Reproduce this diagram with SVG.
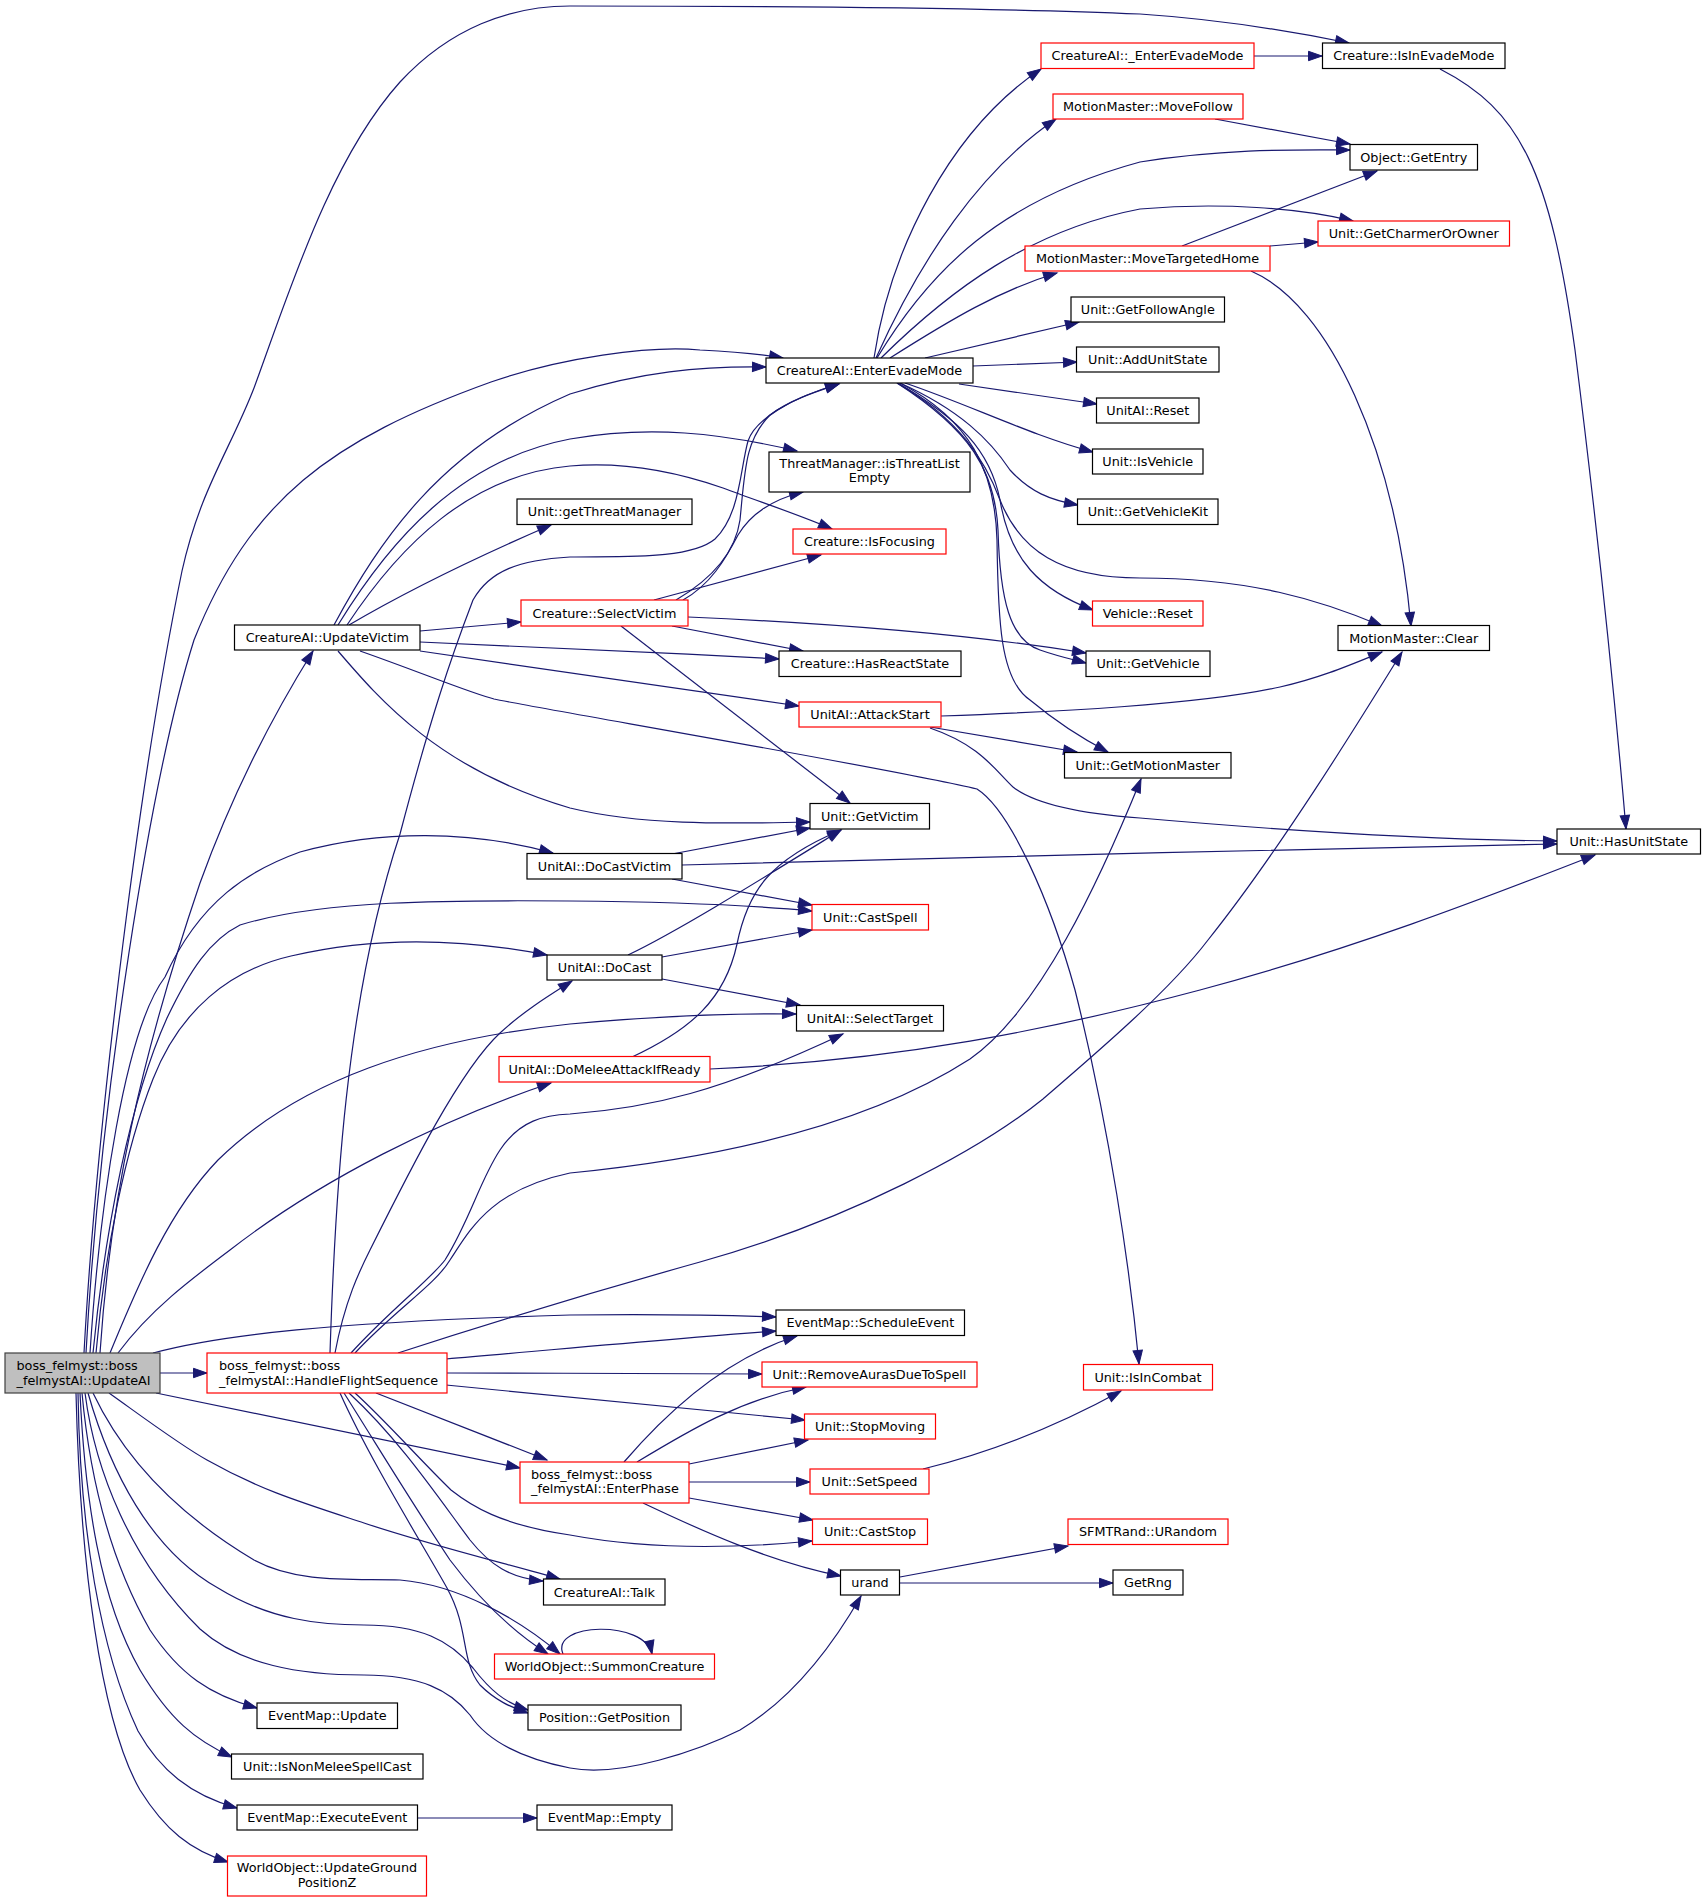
<svg xmlns="http://www.w3.org/2000/svg" width="1705" height="1902" viewBox="0 0 1705 1902">
<style>
.n rect{fill:#fff;stroke:#000;stroke-width:1.2}
.n.r rect{stroke:#ff0000}
.n.g rect{fill:#bfbfbf;stroke:#404040}
text{font-family:"DejaVu Sans","Liberation Sans",sans-serif;font-size:12.8px;fill:#000}
.c{text-anchor:middle}
#edges path{fill:none;stroke:#191970;stroke-width:1.2;marker-end:url(#a)}
</style>
<defs>
<marker id="a" markerUnits="userSpaceOnUse" markerWidth="14" markerHeight="10" refX="13.5" refY="4.7" orient="auto" overflow="visible">
<path d="M0,0 L13.5,4.7 L0,9.4 z" fill="#191970" stroke="#191970" stroke-width="1"/>
</marker>
</defs>
<rect width="1705" height="1902" fill="#fff"/>
<g id="edges">
<path d="M84,1353 C95,1150 135,800 182,571 C200,490 230,450 254,388 C290,290 330,160 400,82 C450,28 510,6 570,6 C800,6 1000,8 1140,14 C1230,20 1300,33 1349,43"/>
<path d="M86,1353 C100,1100 150,780 194,640 C250,500 330,440 491,382 C560,358 650,345 700,350 C740,352 760,354 783,358"/>
<path d="M334,625 C380,540 440,450 570,394 C640,372 700,366 766,367"/>
<path d="M338,625 C390,540 460,460 570,439 C650,425 720,433 797,451"/>
<path d="M347,625 C400,545 470,475 570,466 C640,460 700,480 723,488 C760,502 800,515 832,529"/>
<path d="M349,625 C400,595 470,560 551,525"/>
<path d="M420,631 L521,622"/>
<path d="M420,642 C500,645 650,652 779,659"/>
<path d="M420,651 L799,706"/>
<path d="M360,651 C420,672 470,693 494,699 C530,707 900,770 977,789 C1010,810 1050,900 1075,990 C1110,1130 1130,1270 1139,1364"/>
<path d="M338,651 C380,700 440,770 570,808 C640,825 720,824 810,822"/>
<path d="M676,600 C710,580 735,555 740,520 C745,470 745,440 770,415 C790,400 815,392 839,384"/>
<path d="M330,1353 C335,1200 345,1000 400,834 C430,720 450,660 473,600 C490,570 520,560 570,557 C620,556 690,560 715,539 C740,515 740,470 748,441 C755,420 790,398 839,384"/>
<path d="M335,1353 C345,1300 360,1270 370,1250 C410,1170 460,1070 500,1033 C525,1010 550,995 572,981"/>
<path d="M351,1353 C390,1310 430,1280 445,1260 C470,1220 480,1180 500,1150 C520,1120 545,1115 570,1114 C650,1108 720,1092 843,1034"/>
<path d="M355,1353 C395,1310 435,1285 450,1260 C470,1230 490,1190 570,1173 C700,1160 860,1130 970,1059 C1040,1010 1100,880 1141,779"/>
<path d="M398,1353 C500,1320 600,1290 700,1262 C850,1220 980,1150 1043,1099 C1100,1050 1170,990 1208,940 C1280,850 1360,720 1402,652"/>
<path d="M90,1353 C100,1200 125,1030 165,977 C200,900 250,870 300,852 C380,830 470,830 553,853"/>
<path d="M93,1353 C105,1230 130,1100 167,1018 C190,970 210,940 240,925 C320,900 450,900 570,901 C680,902 760,906 812,911"/>
<path d="M96,1353 C105,1250 125,1150 153,1079 C180,1010 230,970 291,956 C380,935 470,940 547,955"/>
<path d="M110,1353 C140,1280 170,1210 218,1160 C300,1080 420,1040 570,1024 C660,1016 730,1013 796,1014"/>
<path d="M118,1353 C150,1310 190,1280 230,1250 C320,1180 440,1120 551,1083"/>
<path d="M153,1353 C220,1335 330,1322 570,1315 C650,1314 720,1315 776,1317"/>
<path d="M160,1373 L207,1373"/>
<path d="M156,1393 L520,1468"/>
<path d="M109,1393 C140,1415 180,1445 207,1460 C260,1490 300,1502 364,1523 C430,1545 500,1562 560,1579"/>
<path d="M349,1393 C400,1440 440,1500 470,1540 C490,1565 510,1578 543,1581"/>
<path d="M355,1393 C385,1420 420,1460 451,1490 C470,1505 500,1525 570,1535 C650,1550 740,1548 812,1541"/>
<path d="M93,1393 C120,1450 170,1510 254,1560 C300,1585 360,1578 400,1580 C460,1585 520,1620 560,1654"/>
<path d="M344,1393 C380,1450 410,1500 450,1560 C480,1600 510,1630 548,1654"/>
<path d="M88,1393 C110,1470 150,1550 218,1588 C270,1620 320,1625 364,1625 C420,1625 450,1640 473,1668 C490,1690 505,1703 528,1710"/>
<path d="M340,1393 C370,1460 420,1540 447,1588 C470,1630 460,1660 480,1685 C495,1700 510,1707 528,1713"/>
<path d="M85,1393 C95,1470 130,1560 200,1629 C240,1665 300,1675 364,1675 C420,1675 450,1690 470,1715 C490,1745 530,1760 570,1768 C620,1778 700,1750 740,1730 C790,1700 830,1650 861,1596"/>
<path d="M82,1393 C90,1480 110,1560 150,1630 C180,1675 210,1695 257,1708"/>
<path d="M80,1393 C85,1500 100,1600 140,1670 C170,1720 195,1740 232,1757"/>
<path d="M78,1393 C80,1530 100,1650 138,1731 C160,1770 190,1795 237,1808"/>
<path d="M76,1393 C80,1560 100,1720 140,1790 C165,1830 190,1850 228,1862"/>
<path d="M100,1353 C110,1200 140,1060 200,883 C230,800 270,720 313,651"/>
<path d="M672,854 L810,828"/>
<path d="M682,865 C900,860 1300,848 1557,844"/>
<path d="M672,879 L812,905"/>
<path d="M628,955 C680,930 760,880 841,830"/>
<path d="M662,957 L812,930"/>
<path d="M662,979 L800,1005"/>
<path d="M632,1057 C690,1030 725,1000 737,944 C748,890 770,860 841,830"/>
<path d="M710,1069 C900,1060 1050,1030 1200,990 C1350,950 1480,900 1595,855"/>
<path d="M941,716 C1050,712 1200,705 1280,687 C1320,678 1350,665 1382,652"/>
<path d="M930,727 L1077,752"/>
<path d="M930,728 C980,745 995,770 1013,787 C1040,808 1100,815 1140,818 C1300,832 1450,840 1557,841"/>
<path d="M688,617 C850,624 980,636 1086,653"/>
<path d="M672,626 L803,651"/>
<path d="M621,626 L850,803"/>
<path d="M683,600 C710,585 725,560 738,535 C750,515 770,500 803,492"/>
<path d="M654,600 L821,555"/>
<path d="M874,358 C890,250 950,130 1041,69"/>
<path d="M876,358 C920,260 980,170 1056,119"/>
<path d="M877,358 C930,270 1000,200 1140,162 C1230,148 1300,150 1350,150"/>
<path d="M881,358 C950,290 1030,230 1140,209 C1220,202 1300,208 1353,221"/>
<path d="M890,358 C950,320 1000,290 1057,273"/>
<path d="M925,358 L1079,322"/>
<path d="M973,366 L1077,362"/>
<path d="M959,384 L1097,404"/>
<path d="M905,383 C970,405 1030,435 1093,452"/>
<path d="M900,383 C960,410 990,440 1010,470 C1030,492 1050,500 1078,505"/>
<path d="M898,383 C960,420 990,450 1000,500 C1010,560 1040,590 1093,610"/>
<path d="M897,383 C960,420 985,460 1000,500 C1020,550 1060,578 1140,578 C1250,578 1320,600 1382,626"/>
<path d="M897,383 C970,430 995,470 998,530 C1000,600 1010,640 1040,650 C1060,657 1075,660 1086,663"/>
<path d="M900,383 C970,420 995,470 997,540 C998,620 1000,680 1030,700 C1060,725 1085,740 1108,752"/>
<path d="M1254,56 L1322,56"/>
<path d="M1215,119 L1350,144"/>
<path d="M1182,246 L1377,171"/>
<path d="M1270,246 L1318,242"/>
<path d="M1251,271 C1330,305 1395,450 1411,626"/>
<path d="M1440,69 C1520,110 1550,170 1575,350 C1600,550 1615,700 1626,829"/>
<path d="M624,1462 C660,1420 720,1360 797,1336"/>
<path d="M637,1462 C690,1430 740,1400 806,1387"/>
<path d="M689,1464 L808,1440"/>
<path d="M689,1482 L810,1482"/>
<path d="M689,1498 L813,1520"/>
<path d="M643,1503 C700,1530 770,1562 841,1576"/>
<path d="M446,1359 C550,1350 680,1338 776,1331"/>
<path d="M446,1373 C550,1373 700,1374 762,1374"/>
<path d="M446,1385 L805,1420"/>
<path d="M376,1393 L547,1460"/>
<path d="M923,1469 C980,1455 1050,1430 1121,1391"/>
<path d="M900,1577 L1068,1546"/>
<path d="M900,1583 L1113,1583"/>
<path d="M418,1818 L537,1818"/>
<path d="M563,1654 C550,1622 645,1620 652,1654"/>
</g>
<g id="n_U" class="n g"><rect x="5" y="1353" width="155" height="40"/><text x="16.5" y="1370">boss_felmyst::boss</text><text x="16.5" y="1385">_felmystAI::UpdateAI</text></g>
<g id="n_H" class="n r"><rect x="207" y="1353" width="240" height="40"/><text x="219" y="1370">boss_felmyst::boss</text><text x="219" y="1385">_felmystAI::HandleFlightSequence</text></g>
<g id="n_P" class="n r"><rect x="520" y="1462" width="169" height="41"/><text x="531" y="1478.5">boss_felmyst::boss</text><text x="531" y="1493">_felmystAI::EnterPhase</text></g>
<g id="n_V" class="n"><rect x="234.5" y="625" width="185.5" height="25"/><text class="c" x="327.3" y="642">CreatureAI::UpdateVictim</text></g>
<g id="n_E" class="n"><rect x="766" y="358" width="207" height="25"/><text class="c" x="869.5" y="375">CreatureAI::EnterEvadeMode</text></g>
<g id="n_EE" class="n r"><rect x="1041" y="43" width="213" height="25.5"/><text class="c" x="1147.5" y="60">CreatureAI::_EnterEvadeMode</text></g>
<g id="n_IE" class="n"><rect x="1322.5" y="43" width="182.5" height="25.5"/><text class="c" x="1413.8" y="60">Creature::IsInEvadeMode</text></g>
<g id="n_MF" class="n r"><rect x="1053" y="94" width="190" height="25"/><text class="c" x="1148" y="111">MotionMaster::MoveFollow</text></g>
<g id="n_GE" class="n"><rect x="1350" y="144.5" width="127.5" height="25.5"/><text class="c" x="1413.8" y="161.7">Object::GetEntry</text></g>
<g id="n_GC" class="n r"><rect x="1318" y="221" width="191.5" height="25"/><text class="c" x="1413.8" y="238">Unit::GetCharmerOrOwner</text></g>
<g id="n_MTH" class="n r"><rect x="1025" y="246" width="245" height="25"/><text class="c" x="1147.5" y="263">MotionMaster::MoveTargetedHome</text></g>
<g id="n_GFA" class="n"><rect x="1071" y="297" width="153.5" height="25"/><text class="c" x="1147.8" y="314">Unit::GetFollowAngle</text></g>
<g id="n_AUS" class="n"><rect x="1076.5" y="347" width="142.5" height="25"/><text class="c" x="1147.8" y="364">Unit::AddUnitState</text></g>
<g id="n_UAR" class="n"><rect x="1096.5" y="398" width="102.5" height="25"/><text class="c" x="1147.8" y="415">UnitAI::Reset</text></g>
<g id="n_IV" class="n"><rect x="1092.5" y="449" width="110.5" height="25"/><text class="c" x="1147.8" y="466">Unit::IsVehicle</text></g>
<g id="n_GVK" class="n"><rect x="1077.5" y="499" width="140.5" height="25.5"/><text class="c" x="1147.8" y="516">Unit::GetVehicleKit</text></g>
<g id="n_VR" class="n r"><rect x="1092.5" y="601" width="110.5" height="25"/><text class="c" x="1147.8" y="618">Vehicle::Reset</text></g>
<g id="n_MC" class="n"><rect x="1338" y="625.5" width="151.5" height="25"/><text class="c" x="1413.8" y="642.5">MotionMaster::Clear</text></g>
<g id="n_GV" class="n"><rect x="1086" y="651" width="124" height="25.5"/><text class="c" x="1148" y="668">Unit::GetVehicle</text></g>
<g id="n_GMM" class="n"><rect x="1064.5" y="752.5" width="166.5" height="25.5"/><text class="c" x="1147.8" y="769.7">Unit::GetMotionMaster</text></g>
<g id="n_HUS" class="n"><rect x="1557" y="829" width="143.5" height="25"/><text class="c" x="1628.8" y="846">Unit::HasUnitState</text></g>
<g id="n_TM" class="n"><rect x="769" y="452" width="201" height="40"/><text class="c" x="869.5" y="467.5">ThreatManager::isThreatList</text><text class="c" x="869.5" y="482">Empty</text></g>
<g id="n_GTM" class="n"><rect x="517" y="499" width="175" height="25.5"/><text class="c" x="604.5" y="516">Unit::getThreatManager</text></g>
<g id="n_IF" class="n r"><rect x="793" y="529" width="153" height="25"/><text class="c" x="869.5" y="546">Creature::IsFocusing</text></g>
<g id="n_SV" class="n r"><rect x="521" y="600" width="167" height="26"/><text class="c" x="604.5" y="617.5">Creature::SelectVictim</text></g>
<g id="n_HRS" class="n"><rect x="779" y="651" width="182" height="25.5"/><text class="c" x="870" y="668">Creature::HasReactState</text></g>
<g id="n_AS" class="n r"><rect x="799" y="702" width="142" height="25"/><text class="c" x="870" y="719">UnitAI::AttackStart</text></g>
<g id="n_GVi" class="n"><rect x="810" y="803.5" width="119.5" height="25.5"/><text class="c" x="869.8" y="820.7">Unit::GetVictim</text></g>
<g id="n_DCV" class="n"><rect x="527" y="853.5" width="155" height="25.5"/><text class="c" x="604.5" y="870.7">UnitAI::DoCastVictim</text></g>
<g id="n_CS" class="n r"><rect x="812" y="904.5" width="116.5" height="25.5"/><text class="c" x="870.3" y="921.7">Unit::CastSpell</text></g>
<g id="n_DC" class="n"><rect x="547" y="955" width="115" height="25"/><text class="c" x="604.5" y="972">UnitAI::DoCast</text></g>
<g id="n_ST" class="n"><rect x="796.5" y="1005.5" width="147" height="25.5"/><text class="c" x="870" y="1022.7">UnitAI::SelectTarget</text></g>
<g id="n_DM" class="n r"><rect x="499" y="1056.5" width="211" height="25.5"/><text class="c" x="604.5" y="1073.7">UnitAI::DoMeleeAttackIfReady</text></g>
<g id="n_SE" class="n"><rect x="776" y="1310" width="188.5" height="25.5"/><text class="c" x="870.3" y="1327.2">EventMap::ScheduleEvent</text></g>
<g id="n_RA" class="n r"><rect x="762" y="1362" width="215" height="25"/><text class="c" x="869.5" y="1379">Unit::RemoveAurasDueToSpell</text></g>
<g id="n_IC" class="n r"><rect x="1083.5" y="1364.5" width="129" height="25.5"/><text class="c" x="1148" y="1381.7">Unit::IsInCombat</text></g>
<g id="n_SM" class="n r"><rect x="804.5" y="1414" width="131" height="25"/><text class="c" x="870" y="1431">Unit::StopMoving</text></g>
<g id="n_SS" class="n r"><rect x="810" y="1469" width="119" height="25"/><text class="c" x="869.5" y="1486">Unit::SetSpeed</text></g>
<g id="n_CSt" class="n r"><rect x="812.5" y="1519" width="115" height="25.5"/><text class="c" x="870" y="1536.2">Unit::CastStop</text></g>
<g id="n_SF" class="n r"><rect x="1068" y="1519" width="160" height="25.5"/><text class="c" x="1148" y="1536.2">SFMTRand::URandom</text></g>
<g id="n_urand" class="n"><rect x="840.5" y="1570" width="59" height="25"/><text class="c" x="870" y="1587">urand</text></g>
<g id="n_GR" class="n"><rect x="1113" y="1570" width="70" height="25"/><text class="c" x="1148" y="1587">GetRng</text></g>
<g id="n_T" class="n"><rect x="543.5" y="1579" width="121.5" height="26"/><text class="c" x="604.3" y="1596.5">CreatureAI::Talk</text></g>
<g id="n_SC" class="n r"><rect x="494.5" y="1654" width="220" height="25"/><text class="c" x="604.5" y="1671">WorldObject::SummonCreature</text></g>
<g id="n_GP" class="n"><rect x="528" y="1705" width="153" height="25"/><text class="c" x="604.5" y="1722">Position::GetPosition</text></g>
<g id="n_EU" class="n"><rect x="257" y="1703" width="140.5" height="25.5"/><text class="c" x="327.3" y="1720.2">EventMap::Update</text></g>
<g id="n_INM" class="n"><rect x="231.5" y="1754" width="191.5" height="25"/><text class="c" x="327.3" y="1771">Unit::IsNonMeleeSpellCast</text></g>
<g id="n_EX" class="n"><rect x="237" y="1805" width="180.5" height="25"/><text class="c" x="327.3" y="1822">EventMap::ExecuteEvent</text></g>
<g id="n_EM" class="n"><rect x="537" y="1805" width="135" height="25"/><text class="c" x="604.5" y="1822">EventMap::Empty</text></g>
<g id="n_UG" class="n r"><rect x="227.5" y="1856" width="199" height="40"/><text class="c" x="327" y="1872">WorldObject::UpdateGround</text><text class="c" x="327" y="1887">PositionZ</text></g>
</svg>
